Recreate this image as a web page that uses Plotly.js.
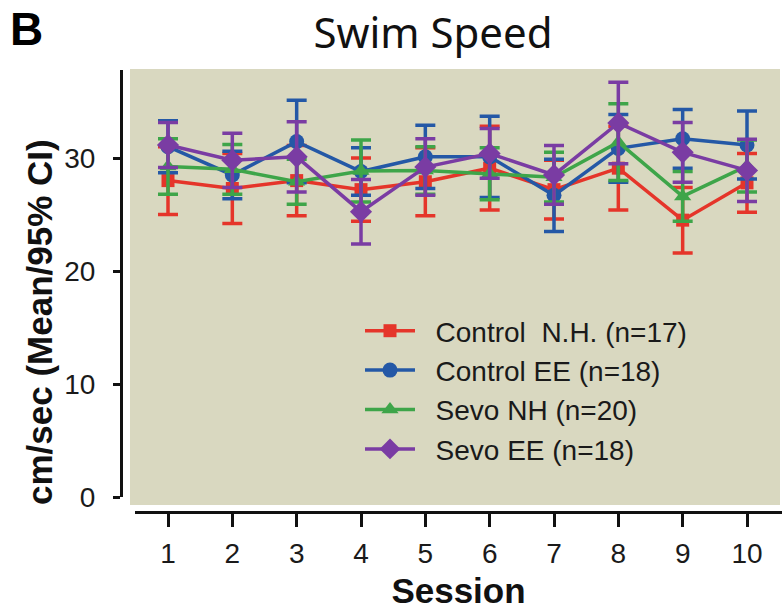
<!DOCTYPE html>
<html>
<head>
<meta charset="utf-8">
<script src="https://cdn.plot.ly/plotly-3.0.1.min.js"></script>
<style>html,body{margin:0;padding:0;background:#fff;}#chart{width:782px;height:610px;}</style>
</head>
<body>
<div id="chart"></div>
<script>
const sessions = [1, 2, 3, 4, 5, 6, 7, 8, 9, 10];
const tickLabels = ["1", "2", "3", "4", "5", "6", "7", "8", "9", "10"];
const seriesNames = ["Control  N.H. (n=17)", "Control EE (n=18)", "Sevo NH (n=20)", "Sevo EE (n=18)"];

const controlNH = [28.0, 27.3, 28.0, 27.2, 27.9, 29.1, 27.2, 29.1, 24.5, 27.8];
const controlNH_ci = [3.0, 3.1, 3.1, 2.8, 3.0, 3.7, 2.6, 3.7, 2.9, 2.6];

const controlEE = [31.0, 28.5, 31.45, 28.8, 30.1, 30.1, 26.7, 30.85, 31.7, 31.15];
const controlEE_ci = [2.3, 2.1, 3.65, 2.1, 2.8, 3.6, 3.2, 3.0, 2.6, 3.0];

const sevoNH = [29.25, 29.0, 27.9, 28.85, 28.9, 28.6, 28.3, 31.4, 26.6, 29.3];
const sevoNH_ci = [2.45, 2.2, 2.0, 2.75, 2.1, 2.3, 2.2, 3.4, 2.2, 2.3];

const sevoEE = [31.15, 29.8, 30.1, 25.25, 29.2, 30.4, 28.5, 33.1, 30.5, 28.9];
const sevoEE_ci = [2.0, 2.4, 3.1, 2.85, 2.5, 2.2, 2.6, 3.6, 2.65, 2.75];

const colors = ["#e5352a", "#2458a6", "#3ea549", "#7a3ca3"];
const symbols = ["square", "circle", "triangle-up", "diamond"];
const sizes = [13, 15, 15, 17];

const vals = [controlNH, controlEE, sevoNH, sevoEE];
const cis = [controlNH_ci, controlEE_ci, sevoNH_ci, sevoEE_ci];

const traces = vals.map((v, i) => ({
  type: "scatter",
  mode: "lines+markers",
  name: "\u00a0\u00a0" + seriesNames[i],
  x: sessions,
  y: v,
  line: {color: colors[i], width: 3.5},
  marker: {color: colors[i], symbol: symbols[i], size: sizes[i]},
  error_y: {type: "data", array: cis[i], visible: true, color: colors[i], thickness: 3.5, width: 10},
  cliponaxis: false
}));

// plot-area pixel geometry (margins l=121, t=69, b=98, r=0 -> 661 x 443)
const W = 661, H = 443;
const px = x => (x - 121) / W;
const py = y => (512 - y) / H;

const layout = {
  width: 782, height: 610,
  margin: {l: 121, r: 0, t: 69, b: 98, pad: 0},
  paper_bgcolor: "#ffffff",
  plot_bgcolor: "rgba(0,0,0,0)",
  font: {family: "Arial, 'Liberation Sans', sans-serif", color: "#1a1a1a"},
  title: {
    text: "Swim Speed",
    font: {family: "'Noto Sans', 'Open Sans', sans-serif", size: 42, color: "#111"},
    x: 433 / 782, xanchor: "center", xref: "container",
    y: 1 - 33 / 610, yanchor: "middle", yref: "container"
  },
  xaxis: {
    domain: [px(135), 1],
    range: [1 - (168 - 135) / 64.33, 10 + (782 - 747) / 64.33],
    anchor: "free", position: 0,
    tickmode: "array", tickvals: sessions, ticktext: tickLabels,
    ticks: "outside", ticklen: 13, tickwidth: 3, tickcolor: "#111",
    showline: true, linewidth: 3, linecolor: "#111",
    showgrid: false, zeroline: false,
    tickfont: {size: 28, color: "#1a1a1a"},
    ticklabelstandoff: 2,
    title: {text: "<b>Session</b>", font: {size: 35, color: "#111"}, standoff: 13},
    automargin: false, fixedrange: true
  },
  yaxis: {
    domain: [py(497), py(70)],
    range: [0, (497 - 70) / 11.3],
    anchor: "free", position: 0,
    tickmode: "array", tickvals: [0, 10, 20, 30], ticktext: ["0", "10", "20", "30"],
    ticks: "outside", ticklen: 7, tickwidth: 3, tickcolor: "#111",
    showline: true, linewidth: 3, linecolor: "#111",
    showgrid: false, zeroline: false,
    tickfont: {size: 28, color: "#1a1a1a"},
    ticklabelstandoff: 12,
    automargin: false, fixedrange: true
  },
  shapes: [{
    type: "rect", xref: "paper", yref: "paper", layer: "below",
    x0: px(130), x1: px(780), y0: py(505), y1: py(69),
    fillcolor: "#d9d8c0", line: {width: 0}
  }],
  annotations: [{
    text: "<b>B</b>", xref: "paper", yref: "paper",
    x: px(8), y: py(29), xanchor: "left", yanchor: "middle",
    showarrow: false, font: {size: 46, color: "#000", family: "Arial, sans-serif"}
  }, {
    text: "<b>cm/sec (Mean/95% CI)</b>", xref: "paper", yref: "paper",
    x: px(39), y: py(322), xanchor: "center", yanchor: "middle", textangle: -90,
    showarrow: false, font: {size: 35, color: "#111", family: "Arial, sans-serif"}
  }],
  showlegend: true,
  legend: {
    x: px(360), y: py(306), xanchor: "left", yanchor: "top",
    bgcolor: "rgba(0,0,0,0)", borderwidth: 0,
    font: {size: 28, color: "#1a1a1a"},
    itemwidth: 50, tracegroupgap: 0
  }
};

Plotly.newPlot("chart", traces, layout, {displayModeBar: false, staticPlot: true});
</script>
</body>
</html>
